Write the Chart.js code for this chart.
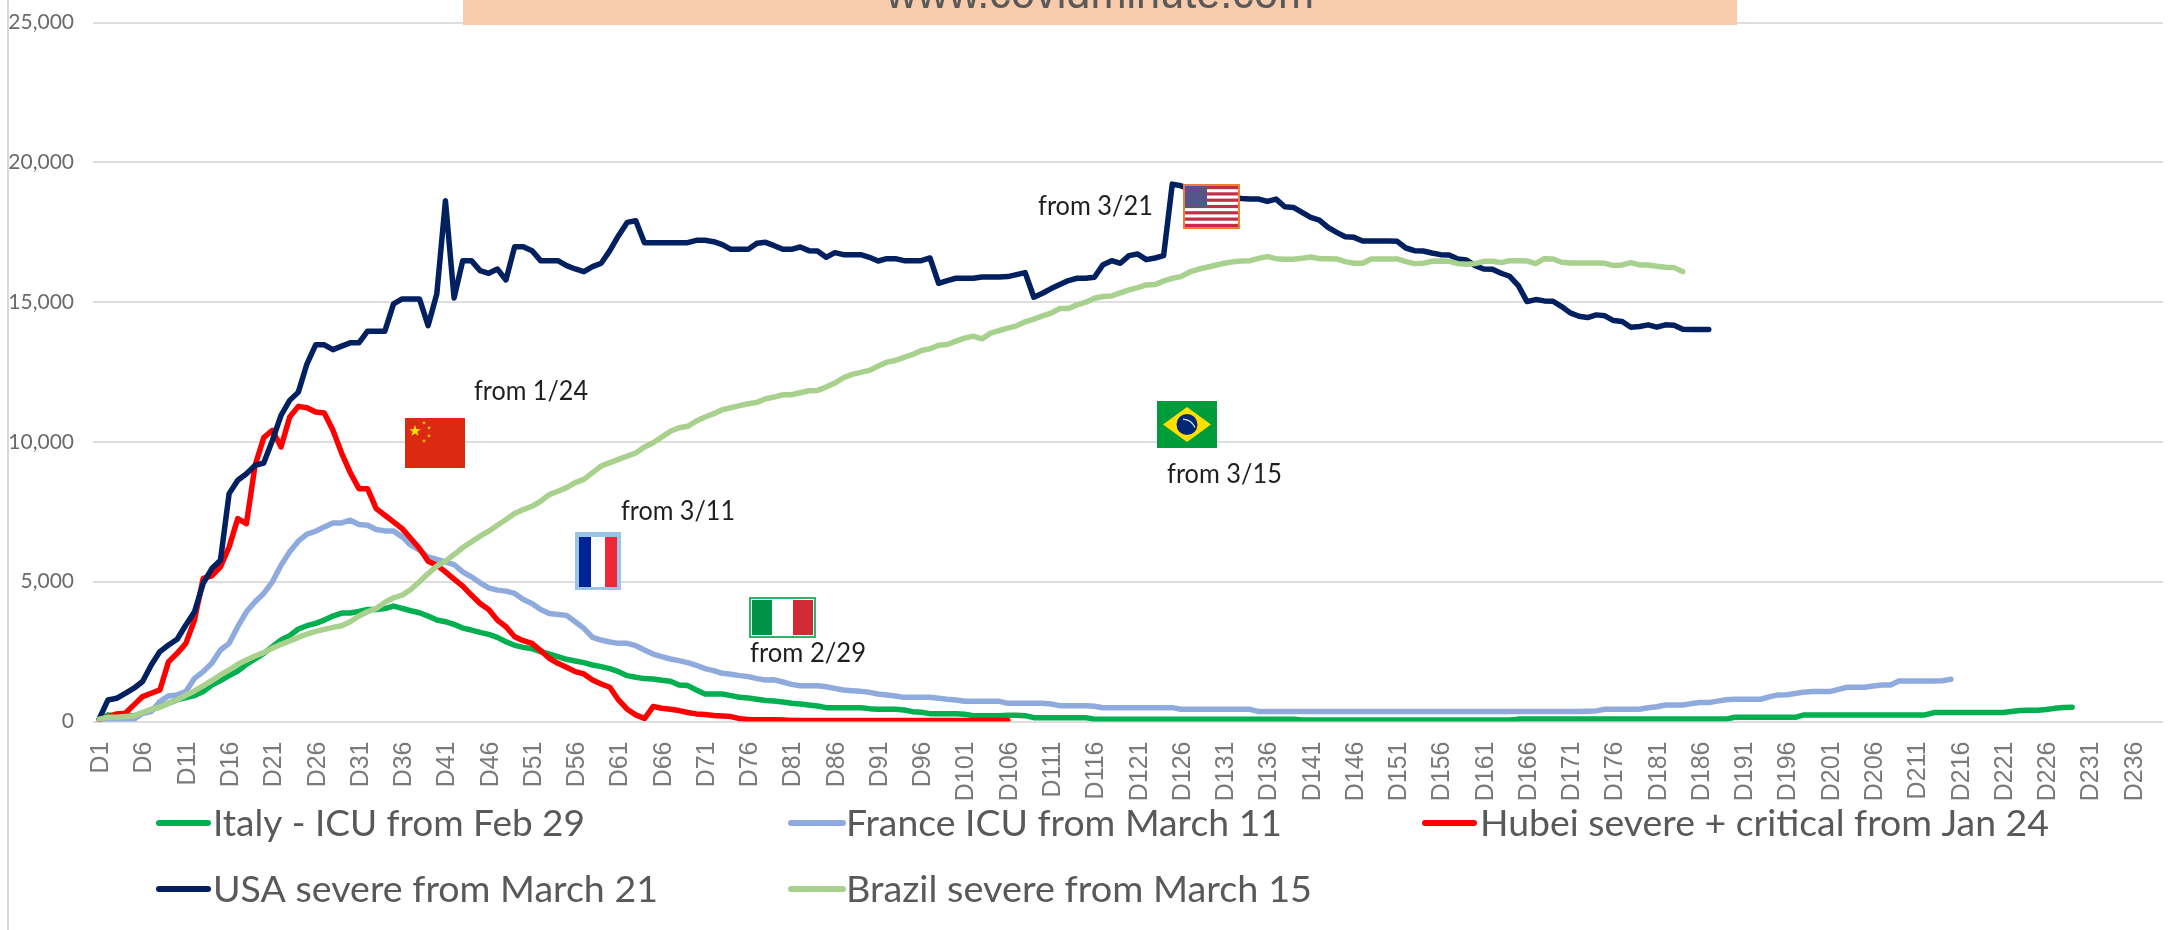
<!DOCTYPE html>
<html>
<head>
<meta charset="utf-8">
<style>html,body{margin:0;padding:0;background:#fff}canvas{display:block}</style>
<script src="https://cdn.jsdelivr.net/npm/chart.js@4"></script>
</head>
<body>
<canvas id="c" width="2177" height="930"></canvas>
<script>
const dayCount = 239;
const categories = [];
for (let d = 1; d <= dayCount; d++) categories.push('D' + d);
const yTicks = [0, 5000, 10000, 15000, 20000, 25000];

const italy = [90,237,200,237,200,296,415,534,653,772,
855,927,1069,1307,1462,1640,1807,2045,2236,2438,
2676,2914,3069,3307,3426,3509,3628,3771,3878,3878,
3937,4009,4009,4040,4128,4044,3961,3890,3771,3628,
3569,3473,3342,3271,3188,3116,3009,2854,2724,2652,
2605,2498,2414,2319,2224,2164,2105,2021,1962,1891,
1784,1640,1581,1534,1522,1474,1438,1307,1284,1129,
986,986,986,927,867,843,796,748,733,698,
650,626,590,555,495,495,495,495,495,460,
436,436,436,412,352,329,281,281,281,281,
257,210,210,210,210,220,220,210,138,138,
138,138,138,138,138,80,80,80,80,80,
80,80,80,80,80,80,80,80,80,80,
80,80,80,80,80,80,80,80,80,55,
55,55,55,55,55,55,55,55,55,55,
55,55,55,55,55,55,55,55,55,55,
55,55,55,55,85,85,85,85,85,85,
85,85,85,85,85,85,85,85,85,85,
85,85,85,85,85,85,85,85,85,150,
150,150,150,150,150,150,150,235,235,235,
235,235,235,235,235,235,235,235,235,235,
235,235,319,319,319,319,319,319,319,319,
319,360,390,400,400,430,470,500,510];

const france = [0,10,20,30,82,296,355,713,915,950,
1069,1545,1784,2081,2557,2795,3390,3925,4282,4580,
4996,5592,6068,6448,6698,6805,6960,7103,7103,7198,
7043,7019,6865,6817,6817,6603,6306,6127,5889,5794,
5710,5615,5353,5175,4961,4782,4699,4663,4580,4366,
4223,4009,3866,3830,3795,3568,3330,3009,2914,2843,
2795,2795,2712,2557,2414,2319,2236,2176,2105,2010,
1891,1819,1724,1688,1641,1605,1534,1486,1490,1412,
1328,1281,1281,1281,1245,1185,1126,1102,1078,1043,
983,947,912,864,864,864,864,829,793,769,
721,721,721,721,721,650,650,650,650,650,
626,567,567,567,567,543,495,495,495,495,
495,495,495,495,495,436,436,436,436,436,
436,436,436,436,355,355,355,355,355,355,
355,355,355,355,355,355,355,355,355,355,
355,355,355,355,355,355,355,355,355,355,
355,355,355,355,355,355,355,355,355,355,
355,355,370,380,438,438,438,438,438,490,
530,592,592,592,640,676,676,730,780,795,
795,795,795,880,950,960,1000,1050,1069,1069,
1069,1150,1224,1224,1224,1270,1306,1306,1449,1449,
1449,1449,1449,1460,1509];

const hubei = [60,170,270,296,594,891,1010,1129,2140,2438,
2795,3628,5115,5210,5532,6246,7257,7079,9161,10150,
10414,9819,10890,11271,11223,11069,11033,10414,9600,8900,
8328,8328,7615,7376,7138,6900,6543,6186,5734,5592,
5353,5092,4842,4521,4223,4009,3628,3390,3033,2890,
2795,2533,2260,2081,1938,1784,1700,1486,1343,1224,
771,439,236,106,534,474,439,391,320,272,
250,214,200,177,100,70,60,60,60,50,
35,35,35,35,35,35,35,35,35,35,
35,35,35,35,35,35,35,35,35,35,
35,35,35,35,35,35];

const usa = [100,770,830,1010,1190,1430,2020,2500,2735,2940,
3450,3925,4940,5470,5770,8150,8630,8860,9160,9245,
10050,10950,11485,11780,12794,13472,13472,13300,13425,13544,
13544,13960,13960,13960,14936,15115,15115,15115,14160,15290,
18625,15150,16483,16483,16126,16031,16185,15793,16983,16983,
16840,16483,16483,16483,16305,16185,16090,16269,16388,16840,
17375,17850,17911,17126,17126,17126,17126,17126,17126,17209,
17209,17161,17054,16888,16888,16888,17102,17137,17018,16888,
16888,16971,16840,16828,16602,16769,16697,16697,16697,16602,
16471,16554,16554,16483,16483,16483,16578,15674,15769,15852,
15852,15852,15900,15900,15900,15912,15983,16055,15174,15317,
15483,15626,15769,15852,15852,15888,16340,16483,16388,16661,
16721,16519,16578,16661,19220,19160,19050,19000,18950,18900,
18850,18750,18708,18684,18684,18601,18684,18411,18387,18209,
18030,17935,17673,17495,17340,17316,17185,17185,17185,17185,
17173,16935,16840,16828,16757,16697,16685,16543,16507,16305,
16185,16173,16031,15924,15590,15019,15091,15043,15031,14841,
14615,14496,14448,14543,14508,14340,14305,14103,14127,14186,
14103,14186,14174,14032,14020,14020,14020];

const brazil = [80,150,153,177,200,320,439,510,653,772,
939,1093,1272,1462,1664,1843,2045,2200,2343,2462,
2617,2759,2878,3009,3128,3223,3295,3366,3426,3569,
3771,3925,4044,4259,4425,4520,4723,4996,5294,5556,
5734,5972,6222,6424,6627,6805,7019,7222,7436,7579,
7698,7876,8114,8233,8364,8543,8662,8900,9138,9257,
9376,9490,9602,9816,9971,10176,10378,10509,10557,10747,
10890,11009,11152,11223,11295,11366,11414,11545,11604,11687,
11687,11758,11830,11842,11961,12104,12294,12413,12485,12556,
12711,12853,12913,13020,13127,13270,13329,13460,13484,13603,
13710,13782,13686,13889,13984,14067,14151,14293,14389,14508,
14603,14770,14770,14900,14995,15138,15198,15222,15329,15436,
15519,15614,15626,15757,15852,15912,16078,16174,16245,16316,
16388,16440,16471,16483,16566,16626,16554,16531,16531,16566,
16614,16554,16554,16542,16447,16388,16388,16542,16542,16542,
16542,16447,16376,16388,16459,16471,16459,16376,16352,16376,
16459,16459,16412,16483,16483,16471,16376,16554,16542,16424,
16400,16400,16400,16400,16388,16305,16328,16412,16328,16328,
16281,16245,16233,16090];

const seriesNames = ['Italy - ICU from Feb 29','France ICU from March 11','Hubei severe + critical from Jan 24','USA severe from March 21','Brazil severe from March 15'];
const seriesColors = ['#00b050','#8faadc','#ff0000','#002060','#a9d18e'];
const seriesValues = [italy, france, hubei, usa, brazil];

const legendLayout = [
  {x0:157,x1:210,tx:213,y:823,w:372},
  {x0:789,x1:845,tx:846,y:823,w:436},
  {x0:1423,x1:1476,tx:1480,y:823,w:569},
  {x0:157,x1:210,tx:213,y:889,w:445},
  {x0:789,x1:845,tx:846,y:889,w:466}
];
const notes = [
  {t:'from 1/24',x:474,y:400,w:114},
  {t:'from 3/11',x:621,y:520,w:114},
  {t:'from 2/29',x:750,y:662,w:116},
  {t:'from 3/21',x:1038,y:215,w:115},
  {t:'from 3/15',x:1167,y:483,w:115}
];

function fitText(ctx, text, x, y, w, font, color) {
  ctx.save();
  ctx.font = font;
  ctx.fillStyle = color;
  ctx.textAlign = 'left';
  ctx.textBaseline = 'alphabetic';
  const m = ctx.measureText(text).width;
  ctx.translate(x, y);
  ctx.scale(w / m, 1);
  ctx.fillText(text, 0, 0);
  ctx.restore();
}
function rect(ctx, c, x, y, w, h) { ctx.fillStyle = c; ctx.fillRect(x, y, w, h); }

function star(ctx, cx, cy, r, c) {
  ctx.fillStyle = c; ctx.beginPath();
  for (let i = 0; i < 10; i++) {
    const a = -Math.PI / 2 + i * Math.PI / 5, q = i % 2 ? r * 0.4 : r;
    ctx[i ? 'lineTo' : 'moveTo'](cx + q * Math.cos(a), cy + q * Math.sin(a));
  }
  ctx.closePath(); ctx.fill();
}
function drawFlags(ctx) {
  // China
  rect(ctx, '#dc2a10', 405, 418, 60, 50);
  star(ctx, 415, 431, 6, '#ffde00');
  [[424,423],[429,428],[429,436],[424,441]].forEach(p => star(ctx, p[0], p[1], 2, '#ffde00'));
  // France
  rect(ctx, '#9dc3e6', 575, 532, 46, 58);
  rect(ctx, '#ffffff', 579, 537, 38, 50);
  rect(ctx, '#002395', 579, 537, 12, 50);
  rect(ctx, '#ed2939', 605, 537, 12, 50);
  // Italy
  rect(ctx, '#2fb56a', 749, 597, 67, 41);
  rect(ctx, '#ffffff', 751, 599, 63, 37);
  rect(ctx, '#009246', 752, 600, 20, 35);
  rect(ctx, '#ce2b37', 793, 600, 20, 35);
  // USA
  rect(ctx, '#ed7d31', 1183, 184, 57, 45);
  rect(ctx, '#ffffff', 1185, 186, 53, 41);
  for (let i = 0; i < 7; i++) rect(ctx, '#bf3048', 1185, 186 + i * 6.3, 53, 3.2);
  rect(ctx, '#55558a', 1185, 186, 22, 21);
  // Brazil
  rect(ctx, '#009b3a', 1157, 401, 60, 47);
  ctx.fillStyle = '#fedf00'; ctx.beginPath();
  ctx.moveTo(1187, 407); ctx.lineTo(1211, 424.5); ctx.lineTo(1187, 442); ctx.lineTo(1163, 424.5);
  ctx.closePath(); ctx.fill();
  ctx.fillStyle = '#002776'; ctx.beginPath(); ctx.arc(1187, 424.5, 10.5, 0, Math.PI * 2); ctx.fill();
  ctx.strokeStyle = '#dfe8e0'; ctx.lineWidth = 1.2; ctx.beginPath(); ctx.arc(1182, 433, 14, -1.5, -0.4); ctx.stroke();
}

const decorations = {
  id: 'decorations',
  afterDraw(chart) {
    const ctx = chart.ctx;
    ctx.save();
    rect(ctx, '#d9d9d9', 7, 0, 2, 930);
    rect(ctx, '#f8cbad', 463, 0, 1274, 25);
    fitText(ctx, 'www.covidminute.com', 886, 8, 428, '47px "Liberation Sans"', '#595959');
    drawFlags(ctx);
    notes.forEach(n => fitText(ctx, n.t, n.x, n.y, n.w, '27px Lato', '#1f1f1f'));
    seriesNames.forEach((name, i) => {
      const l = legendLayout[i];
      ctx.strokeStyle = seriesColors[i];
      ctx.lineWidth = 6;
      ctx.lineCap = 'round';
      ctx.beginPath(); ctx.moveTo(l.x0 + 2, l.y); ctx.lineTo(l.x1 - 2, l.y); ctx.stroke();
      fitText(ctx, name, l.tx, l.y + 13, l.w, '37px Lato', '#595959');
    });
    ctx.restore();
  }
};

new Chart(document.getElementById('c'), {
  type: 'line',
  data: {
    labels: categories,
    datasets: seriesNames.map((name, i) => ({
      label: name,
      data: seriesValues[i],
      borderColor: seriesColors[i],
      backgroundColor: seriesColors[i],
      borderWidth: 5.5,
      pointRadius: 0,
      tension: 0,
      fill: false,
      spanGaps: false,
      borderCapStyle: 'round',
      borderJoinStyle: 'round',
      order: seriesNames.length - i
    }))
  },
  options: {
    responsive: false,
    animation: false,
    events: [],
    layout: { padding: { left: 0, right: 14, top: 22.5, bottom: 0 } },
    plugins: { legend: { display: false }, title: { display: false }, tooltip: { enabled: false } },
    scales: {
      x: {
        type: 'category',
        offset: true,
        grid: { display: false, drawTicks: false },
        border: { display: false },
        afterFit(s) { s.height = 208.5; s.paddingLeft = 0; s.paddingRight = 0; },
        ticks: {
          autoSkip: false,
          minRotation: 90,
          maxRotation: 90,
          padding: 20,
          labelOffset: 2,
          color: '#7a7a7a',
          font: { family: '"Liberation Sans"', size: 25 },
          callback(v, i) { return i % 5 === 0 ? this.getLabelForValue(v) : ''; }
        }
      },
      y: {
        min: 0,
        max: 25000,
        afterFit(s) { s.width = 95; s.paddingTop = 0; s.paddingBottom = 0; },
        afterBuildTicks(s) { s.ticks = yTicks.map(v => ({ value: v })); },
        grid: { color: '#dedede', lineWidth: 2, tickLength: 2, tickColor: '#dedede' },
        border: { display: false },
        ticks: {
          padding: 19,
          color: '#6a6a6a',
          font: { family: 'Lato', size: 21 },
          callback(v) { return v.toLocaleString('en-US'); }
        }
      }
    }
  },
  plugins: [decorations]
});
</script>
</body>
</html>
